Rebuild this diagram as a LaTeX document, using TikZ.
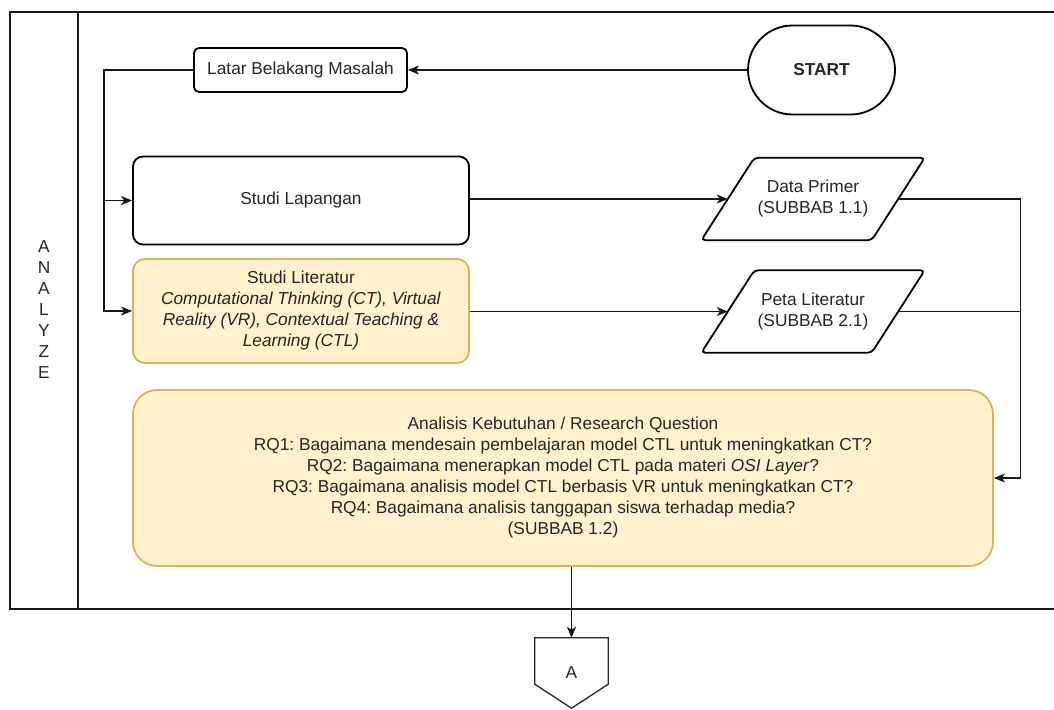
\documentclass[tikz,border=0pt]{standalone}
\usepackage{fontspec}
\setmainfont{Liberation Sans}
\usetikzlibrary{arrows.meta,shapes.misc,calc}
\definecolor{yfill}{HTML}{FFF2CC}
\definecolor{ydraw}{HTML}{D6B656}
\definecolor{txt}{HTML}{262626}
\frenchspacing
\begin{document}
\begin{tikzpicture}[x=1pt,y=-1pt,
  every node/.style={font=\fontsize{17.3}{21}\selectfont, text=txt, align=center, inner sep=0pt},
  frame/.style={line width=2.4pt, draw=black!90},
  box/.style={draw=black, line width=1.8pt, fill=white},
  ybox/.style={draw=ydraw, line width=1.8pt, fill=yfill},
  term/.style={draw=black, line width=1.8pt, rounded rectangle, minimum width=147, minimum height=89, font=\fontsize{17.3}{21}\selectfont\bfseries},
  para/.style={minimum width=170, minimum height=82},
  paraline/.style={draw=black, line width=1.8pt, rounded corners=4},
  conn/.style={line width=1.3pt, draw=black!90},
  arr/.style={conn, -{Stealth[length=11pt,width=9pt,inset=3pt]}},
  offpage/.style={minimum width=73, minimum height=70},
  offline/.style={draw=black!85, line width=1.3pt}
]
\useasboundingbox (0,0) rectangle (1054,709);
\fill[white] (0,0) rectangle (1054,709);

% pool / lane frame
\draw[frame] (1054,12) -- (10,12) -- (10,609) -- (1054,609);
\draw[frame] (78,12) -- (78,609);
\node (lane) at (44,310) {A\\N\\A\\L\\Y\\Z\\E};

% nodes
\node[box, rounded corners=5, minimum width=213, minimum height=44] (lbm) at (300.5,70) {Latar Belakang Masalah};
\node[term] (start) at (821.5,70) {START};
\node[box, rounded corners=10, minimum width=336, minimum height=88] (lap) at (301,200.5) {Studi Lapangan};
\node[ybox, rounded corners=12, minimum width=336, minimum height=104] (lit) at (301,311) {Studi Literatur\\\textit{Computational Thinking (CT), Virtual}\\\textit{Reality (VR), Contextual Teaching \&}\\\textit{Learning (CTL)}};
\node[para] (dp) at (813,199) {Data Primer\\(SUBBAB 1.1)};
\node[para] (pl) at (813,311.5) {Peta Literatur\\(SUBBAB 2.1)};
\node[ybox, rounded corners=24, minimum width=860, minimum height=176] (rq) at (563,478) {Analisis Kebutuhan / Research Question\\RQ1: Bagaimana mendesain pembelajaran model CTL untuk meningkatkan CT?\\RQ2: Bagaimana menerapkan model CTL pada materi \textit{OSI Layer}?\\RQ3: Bagaimana analisis model CTL berbasis VR untuk meningkatkan CT?\\RQ4: Bagaimana analisis tanggapan siswa terhadap media?\\(SUBBAB 1.2)};
\node[offpage] (ac) at (571.5,673) {A};

% parallelogram outlines
\foreach \n in {dp,pl}{
  \draw[paraline] ($(\n.south west)+(-26.5,0)$) -- ($(\n.north west)+(26.5,0)$) -- ($(\n.north east)+(26.5,0)$) -- ($(\n.south east)+(-26.5,0)$) -- cycle;
}
% off-page connector outline
\draw[offline] (ac.north west) -- (ac.north east) -- ($(ac.south east)+(0,-24)$) -- (ac.south) -- ($(ac.south west)+(0,-24)$) -- cycle;

% bus coordinates
\coordinate (lbus) at (104,70);
\coordinate (rbus) at (1020.5,199);

% connectors
\draw[arr] (start.west) -- (lbm.east);
\draw[arr] (lbm.west) -- (lbus) |- (lit.west);
\draw[arr] (lbus |- lap.west) -- (lap.west);
\draw[arr] (dp.west -| lap.east) -- (dp.west);
\draw[arr] (pl.west -| lit.east) -- (pl.west);
\draw[conn] (dp.east) -- (rbus);
\draw[conn] (pl.east) -- (pl.east -| rbus);
\draw[arr] (rbus) |- (rq.east);
\draw[arr] (ac.north |- rq.south) -- (ac.north);
\end{tikzpicture}
\end{document}
